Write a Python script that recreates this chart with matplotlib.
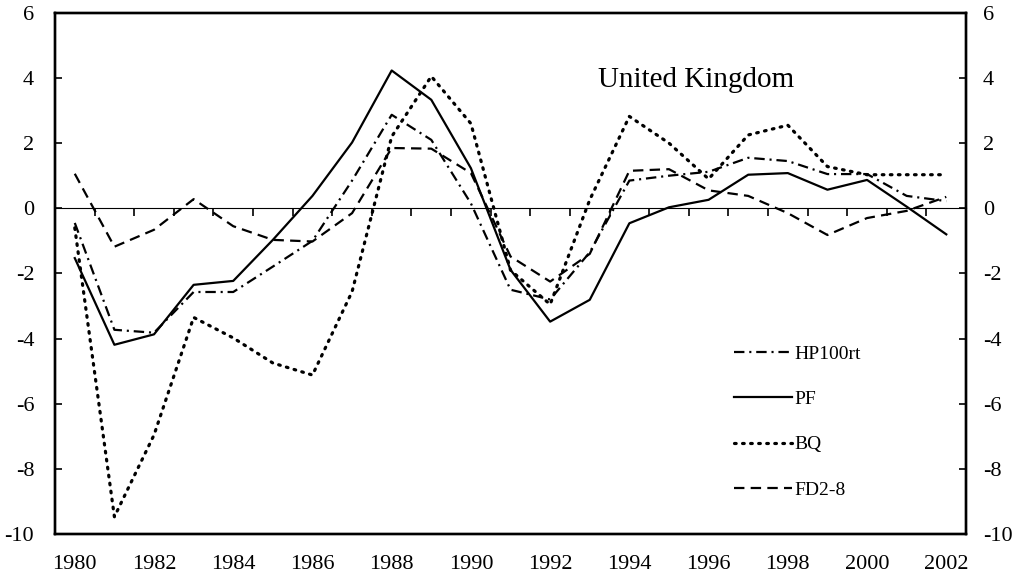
import matplotlib
matplotlib.use("Agg")
import matplotlib.pyplot as plt
import numpy as np

plt.rcParams['font.family'] = ['Liberation Serif', 'DejaVu Serif']
plt.rcParams['lines.scale_dashes'] = False

years = list(range(1980, 2003))
hp100rt = [-0.45, -3.73, -3.82, -2.57, -2.57, -1.79, -1.0, 0.85, 2.87, 2.1, 0.15, -2.5,
           -2.8, -1.35, 0.85, 1.0, 1.12, 1.55, 1.45, 1.05, 1.05, 0.38, 0.22]
pf = [-1.53, -4.19, -3.87, -2.35, -2.23, -0.97, 0.38, 2.02, 4.23, 3.33, 1.23, -1.89,
      -3.48, -2.81, -0.46, 0.03, 0.26, 1.03, 1.08, 0.57, 0.87, 0.05, -0.8]
bq = [-0.6, -9.47, -6.96, -3.35, -3.98, -4.75, -5.12, -2.56, 2.2, 4.05, 2.6, -1.9,
      -2.95, 0.26, 2.82, 2.0, 0.9, 2.25, 2.55, 1.28, 1.03, 1.03, 1.03]
fd28 = [1.06, -1.18, -0.66, 0.28, -0.55, -0.97, -1.02, -0.15, 1.85, 1.83, 1.08, -1.48,
        -2.25, -1.4, 1.15, 1.2, 0.55, 0.38, -0.15, -0.82, -0.3, -0.08, 0.35]

series_labels = ['HP100rt', 'PF', 'BQ', 'FD2-8']
title_text = 'United Kingdom'
y_ticks = [-10, -8, -6, -4, -2, 0, 2, 4, 6]
x_label_years = list(range(1980, 2003, 2))

fig = plt.figure(figsize=(10.18, 5.83), dpi=100)
ax = fig.add_axes([0.054, 0.084, 0.895, 0.894])

lw = 1.6
ax.plot(years, hp100rt, color='black', lw=lw, dashes=(7.5, 3.5, 1.5, 3.5), label=series_labels[0])
ax.plot(years, pf, color='black', lw=lw, label=series_labels[1])
ax.plot(years, bq, color='black', lw=lw + 0.7, dashes=(1.2, 4.6), dash_capstyle='round', label=series_labels[2])
ax.plot(years, fd28, color='black', lw=lw, dashes=(7.5, 4.5), label=series_labels[3])

ax.set_xlim(1979.5, 2002.5)
ax.set_ylim(-10, 6)

for s in ax.spines.values():
    s.set_linewidth(1.7)
    s.set_color('black')

ax.set_xticks(x_label_years)
ax.set_xticklabels([str(y) for y in x_label_years], fontsize=16)
ax.tick_params(axis='x', length=0, pad=15)

ax.set_yticks(y_ticks)
ax.set_yticklabels([str(v) for v in y_ticks], fontsize=16)
ax.tick_params(axis='y', direction='in', length=5, width=1.2, pad=15)

ax2 = ax.twinx()
ax2.set_ylim(-10, 6)
ax2.set_yticks(y_ticks)
ax2.set_yticklabels([str(v) for v in y_ticks], fontsize=16)
ax2.tick_params(axis='y', direction='in', length=5, width=1.2, pad=12)
for s in ax2.spines.values():
    s.set_linewidth(1.7)

# zero line with tick marks between years
zero_frac = (0 - (-10)) / (6 - (-10))
sec = ax.secondary_xaxis(zero_frac)
sec.spines['bottom'].set_linewidth(1.9)
sec.set_xticks([y + 0.5 for y in years[:-1]])
sec.set_xticklabels([])
sec.tick_params(axis='x', direction='in', length=6, width=1.2)

ax.text(0.596, 0.872, title_text, transform=ax.transAxes, fontsize=21,
        ha='left', va='center')

leg = ax.legend(loc='upper left', bbox_to_anchor=(0.745, 0.362), frameon=False,
                fontsize=14, handlelength=3.0, handletextpad=0.1,
                labelspacing=1.42, borderpad=0, borderaxespad=0)

fig.savefig('out.png', dpi=100)
